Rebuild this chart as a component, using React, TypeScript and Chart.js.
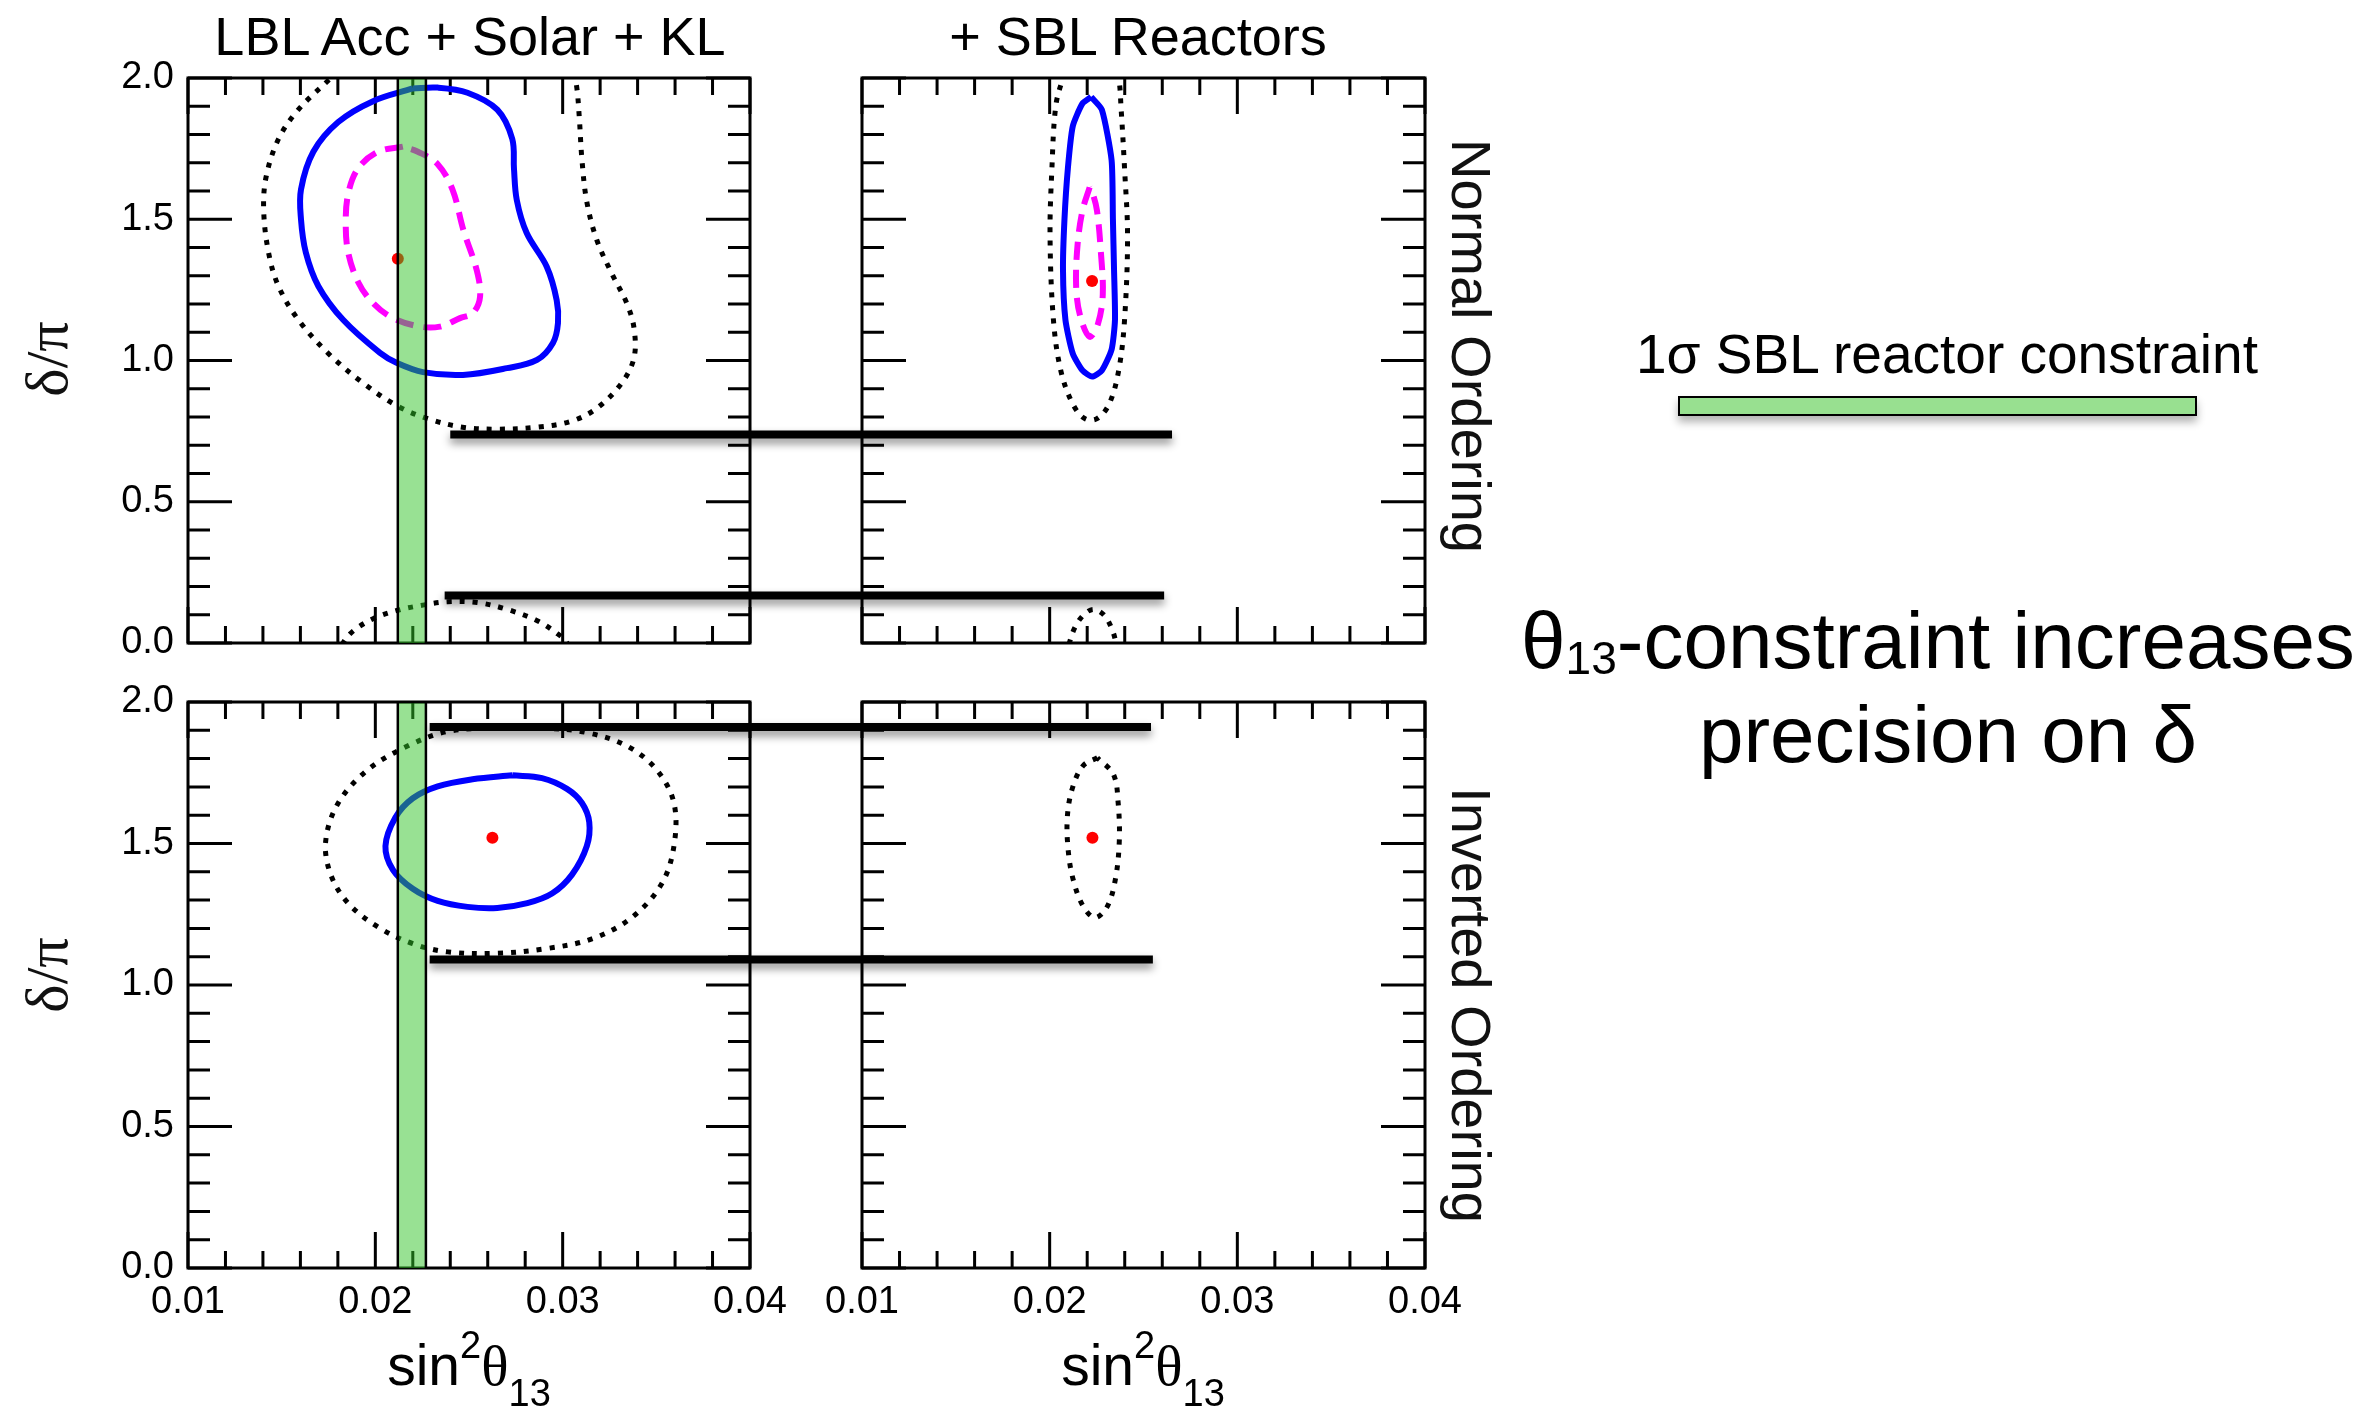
import React, { useEffect, useRef } from 'react';
import { Chart, registerables } from 'chart.js';

Chart.register(...registerables);

type Pt = [number, number];

const SANS = "'Liberation Sans', Arial, Helvetica, sans-serif";
const SERIF = "'Liberation Serif', 'Times New Roman', serif";

// ---- axes ----
const X_MIN = 0.01;
const X_MAX = 0.04;
const Y_MIN = 0;
const Y_MAX = 2;
const X_LABEL_TICKS = [0.01, 0.02, 0.03, 0.04];
const X_MINOR_TICKS = [0.012, 0.014, 0.016, 0.018, 0.022, 0.024, 0.026, 0.028, 0.032, 0.034, 0.036, 0.038];
const Y_LABEL_TICKS = [0.0, 0.5, 1.0, 1.5, 2.0];
const Y_MINOR_TICKS = [0.1, 0.2, 0.3, 0.4, 0.6, 0.7, 0.8, 0.9, 1.1, 1.2, 1.3, 1.4, 1.6, 1.7, 1.8, 1.9];

// ---- 1σ SBL reactor constraint on sin²θ13 ----
const SBL_BAND: Pt = [0.0212, 0.0227];

// ---- Normal ordering, LBL Acc + Solar + KL ----
const NO_ACC_SOLID: Pt[] = [
  [0.022, 1.963], [0.01988, 1.918], [0.01802, 1.844], [0.01669, 1.739], [0.01603, 1.605],
  [0.01603, 1.501], [0.01629, 1.382], [0.01696, 1.263], [0.01828, 1.144], [0.02025, 1.027],
  [0.02116, 0.991], [0.02254, 0.959], [0.02468, 0.949], [0.02703, 0.973], [0.02863, 1.002],
  [0.02948, 1.062], [0.02975, 1.133], [0.02968, 1.214], [0.02915, 1.332], [0.02808, 1.451],
  [0.02755, 1.568], [0.0274, 1.68], [0.02731, 1.784], [0.02651, 1.888], [0.02492, 1.948],
  [0.02333, 1.966], [0.022, 1.963],
];
const NO_ACC_DASHED: Pt[] = [
  [0.02147, 1.757], [0.02014, 1.739], [0.01908, 1.68], [0.01855, 1.59], [0.01842, 1.486],
  [0.01855, 1.382], [0.01908, 1.278], [0.01988, 1.203], [0.02094, 1.15], [0.02238, 1.12],
  [0.02345, 1.12], [0.02452, 1.15], [0.02521, 1.168], [0.02559, 1.226], [0.02541, 1.32],
  [0.0247, 1.462], [0.02412, 1.605], [0.02333, 1.695], [0.02227, 1.739], [0.02147, 1.757],
];
const NO_ACC_DOTTED: Pt[] = [
  [0.0185, 2.06], [0.01762, 2.0], [0.01589, 1.888], [0.01483, 1.784], [0.01417, 1.65],
  [0.01404, 1.531], [0.0143, 1.382], [0.01483, 1.263], [0.01589, 1.144], [0.01749, 1.025],
  [0.01935, 0.92], [0.0212, 0.838], [0.0228, 0.794], [0.02465, 0.764], [0.02651, 0.757],
  [0.02864, 0.764], [0.0305, 0.786], [0.03182, 0.831], [0.03315, 0.92], [0.03381, 1.01],
  [0.03381, 1.114], [0.03342, 1.203], [0.03262, 1.308], [0.03182, 1.427], [0.03129, 1.561],
  [0.03103, 1.71], [0.03089, 1.858], [0.03076, 1.963], [0.0305, 2.06],
];
const NO_ACC_DOTTED_LOW: Pt[] = [
  [0.018, -0.05], [0.01828, 0.0], [0.01881, 0.042], [0.01988, 0.086], [0.0212, 0.116],
  [0.02253, 0.134], [0.02386, 0.146], [0.02545, 0.143], [0.02704, 0.119], [0.02864, 0.079],
  [0.0297, 0.034], [0.03023, 0.0], [0.0304, -0.05],
];
const NO_ACC_BEST: Pt = [0.0212, 1.36];

// ---- Normal ordering, + SBL Reactors ----
const NO_SBL_SOLID: Pt[] = [
  [0.02221, 1.933], [0.02175, 1.91], [0.02123, 1.829], [0.02097, 1.68], [0.02079, 1.501],
  [0.02071, 1.322], [0.02084, 1.144], [0.02123, 1.025], [0.02175, 0.965], [0.02226, 0.943],
  [0.02278, 0.965], [0.0233, 1.039], [0.02348, 1.144], [0.02343, 1.322], [0.02337, 1.501],
  [0.0233, 1.709], [0.02278, 1.888], [0.02221, 1.933],
];
const NO_SBL_DASHED: Pt[] = [
  [0.02213, 1.613], [0.02175, 1.531], [0.02149, 1.412], [0.02141, 1.263], [0.02162, 1.159],
  [0.02213, 1.084], [0.02257, 1.129], [0.02283, 1.233], [0.02273, 1.382], [0.02252, 1.531],
  [0.02226, 1.598], [0.02213, 1.613],
];
const NO_SBL_DOTTED: Pt[] = [
  [0.0211, 2.06], [0.02072, 2.0], [0.02033, 1.903], [0.02012, 1.68], [0.02002, 1.441],
  [0.0202, 1.144], [0.02059, 0.965], [0.02123, 0.846], [0.02188, 0.794], [0.02252, 0.794],
  [0.02317, 0.846], [0.02368, 0.965], [0.02399, 1.144], [0.02415, 1.441], [0.02399, 1.68],
  [0.02381, 1.888], [0.02368, 2.0], [0.0234, 2.06],
];
const NO_SBL_DOTTED_LOW: Pt[] = [
  [0.0209, -0.05], [0.02105, 0.0], [0.02136, 0.057], [0.02183, 0.101], [0.02234, 0.119],
  [0.02291, 0.098], [0.02332, 0.049], [0.02353, 0.0], [0.0236, -0.05],
];
const NO_SBL_BEST: Pt = [0.02226, 1.281];

// ---- Inverted ordering, LBL Acc + Solar + KL ----
const IO_ACC_SOLID: Pt[] = [
  [0.02731, 1.741], [0.02519, 1.727], [0.02333, 1.702], [0.022, 1.66], [0.02107, 1.592],
  [0.02054, 1.491], [0.02094, 1.407], [0.022, 1.34], [0.02333, 1.297], [0.02492, 1.276],
  [0.02651, 1.272], [0.02811, 1.289], [0.02943, 1.323], [0.0305, 1.39], [0.03129, 1.491],
  [0.03142, 1.575], [0.03103, 1.643], [0.03023, 1.693], [0.0289, 1.731], [0.02731, 1.741],
];
const IO_ACC_DOTTED: Pt[] = [
  [0.02651, 1.909], [0.02386, 1.896], [0.02174, 1.845], [0.01961, 1.761], [0.01802, 1.643],
  [0.01735, 1.508], [0.01762, 1.39], [0.01855, 1.289], [0.02014, 1.205], [0.022, 1.146],
  [0.02386, 1.117], [0.02651, 1.112], [0.02917, 1.129], [0.03156, 1.163], [0.03368, 1.238],
  [0.03527, 1.356], [0.03594, 1.491], [0.03594, 1.643], [0.03501, 1.761], [0.03342, 1.845],
  [0.03129, 1.892], [0.02917, 1.907], [0.02651, 1.909],
];
const IO_ACC_BEST: Pt = [0.02625, 1.52];

// ---- Inverted ordering, + SBL Reactors ----
const IO_SBL_DOTTED: Pt[] = [
  [0.02254, 1.803], [0.02177, 1.774], [0.0212, 1.693], [0.02094, 1.592], [0.02099, 1.474],
  [0.02125, 1.373], [0.02177, 1.28], [0.02241, 1.238], [0.02306, 1.276], [0.0235, 1.373],
  [0.02371, 1.508], [0.02365, 1.643], [0.0234, 1.744], [0.02254, 1.803],
];
const IO_SBL_BEST: Pt = [0.02228, 1.52];

// ---- guide bars: [δ/π, start x in left panel, end x in right panel] ----
const NO_GUIDES: [number, number, number][] = [
  [0.738, 0.024, 0.02652],
  [0.168, 0.0237, 0.0261],
];
const IO_GUIDES: [number, number, number][] = [
  [1.912, 0.0229, 0.0254],
  [1.09, 0.0229, 0.0255],
];

// ---- dataset builders ----
const toXY = (pts: Pt[]) => pts.map(([x, y]) => ({ x, y }));

const solid = (pts: Pt[], tension = 0.35) => ({
  data: toXY(pts), showLine: true, pointRadius: 0, fill: false,
  borderColor: '#0000ff', borderWidth: 6, tension,
});
const dashed = (pts: Pt[]) => ({
  data: toXY(pts), showLine: true, pointRadius: 0, fill: false,
  borderColor: '#ff00ff', borderWidth: 6, borderDash: [18, 10], tension: 0.35,
});
const dotted = (pts: Pt[]) => ({
  data: toXY(pts), showLine: true, pointRadius: 0, fill: false,
  borderColor: '#000000', borderWidth: 5, borderDash: [5, 8], tension: 0.35,
});
const best = (p: Pt) => ({
  data: toXY([p]), showLine: false, pointRadius: 6,
  backgroundColor: '#ff0000', borderColor: '#ff0000', borderWidth: 0,
});
const band = () => ({
  data: toXY([
    [SBL_BAND[0], -0.005], [SBL_BAND[0], 2.0], [SBL_BAND[1], 2.0],
    [SBL_BAND[1], -0.005], [SBL_BAND[0], -0.005],
  ]),
  showLine: true, pointRadius: 0, tension: 0, fill: 'shape',
  backgroundColor: 'rgba(50,195,40,0.5)', borderColor: '#000000', borderWidth: 2.5,
});
// left half of a guide bar runs off the right of its panel, right half enters from the left
const guideLeft = ([y, x0]: [number, number, number]) => ({
  data: toXY([[x0, y], [0.06, y]]), showLine: true, pointRadius: 0, tension: 0,
  borderColor: '#000000', borderWidth: 8, clip: false, shadow: true,
});
const guideRight = ([y, , x1]: [number, number, number]) => ({
  data: toXY([[0.0, y], [x1, y]]), showLine: true, pointRadius: 0, tension: 0,
  borderColor: '#000000', borderWidth: 8, clip: false, shadow: true,
});

// ---- plugins ----
const frameTicks = {
  id: 'frameTicks',
  beforeDatasetsDraw(chart: any) {
    const { ctx, chartArea: a, scales } = chart;
    const xs = scales.x;
    const ys = scales.y;
    ctx.save();
    ctx.strokeStyle = '#000';
    ctx.lineWidth = 3;
    ctx.lineCap = 'butt';
    ctx.beginPath();
    const seg = (x1: number, y1: number, x2: number, y2: number) => {
      ctx.moveTo(x1, y1);
      ctx.lineTo(x2, y2);
    };
    const xTick = (v: number, len: number) => {
      const px = xs.getPixelForValue(v);
      seg(px, a.bottom, px, a.bottom - len);
      seg(px, a.top, px, a.top + len);
    };
    const yTick = (v: number, len: number) => {
      const py = ys.getPixelForValue(v);
      seg(a.left, py, a.left + len, py);
      seg(a.right, py, a.right - len, py);
    };
    X_MINOR_TICKS.forEach((v) => xTick(v, 17));
    X_LABEL_TICKS.forEach((v) => xTick(v, 36));
    Y_MINOR_TICKS.forEach((v) => yTick(v, 22));
    Y_LABEL_TICKS.forEach((v) => yTick(v, 44));
    ctx.stroke();
    ctx.strokeRect(a.left, a.top, a.right - a.left, a.bottom - a.top);
    ctx.restore();
  },
};

const guideShadow = {
  id: 'guideShadow',
  beforeDatasetDraw(chart: any, args: any) {
    const ds: any = chart.data.datasets[args.index];
    if (!ds.shadow) return;
    const ctx = chart.ctx;
    ctx.save();
    ctx.shadowColor = 'rgba(0,0,0,0.45)';
    ctx.shadowBlur = 8;
    ctx.shadowOffsetY = 5;
  },
  afterDatasetDraw(chart: any, args: any) {
    const ds: any = chart.data.datasets[args.index];
    if (!ds.shadow) return;
    chart.ctx.restore();
  },
};

type PanelSpec = {
  id: string;
  left: number; top: number; w: number; h: number;
  yWidth: number; xHeight: number; padTop: number; padRight: number;
  showX: boolean; showY: boolean;
  datasets: any[];
};

const PANELS: PanelSpec[] = [
  {
    id: 'no-acc', left: 0, top: 0, w: 806, h: 672,
    yWidth: 188, xHeight: 29, padTop: 78, padRight: 56, showX: false, showY: true,
    datasets: [
      band(), best(NO_ACC_BEST), ...NO_GUIDES.map(guideLeft),
      dashed(NO_ACC_DASHED), solid(NO_ACC_SOLID), dotted(NO_ACC_DOTTED), dotted(NO_ACC_DOTTED_LOW),
    ],
  },
  {
    id: 'no-sbl', left: 806, top: 0, w: 694, h: 672,
    yWidth: 56, xHeight: 29, padTop: 78, padRight: 75, showX: false, showY: false,
    datasets: [
      best(NO_SBL_BEST), ...NO_GUIDES.map(guideRight),
      dashed(NO_SBL_DASHED), solid(NO_SBL_SOLID, 0.2), dotted(NO_SBL_DOTTED), dotted(NO_SBL_DOTTED_LOW),
    ],
  },
  {
    id: 'io-acc', left: 0, top: 672, w: 806, h: 736,
    yWidth: 188, xHeight: 140, padTop: 30, padRight: 56, showX: true, showY: true,
    datasets: [
      band(), best(IO_ACC_BEST), ...IO_GUIDES.map(guideLeft),
      solid(IO_ACC_SOLID), dotted(IO_ACC_DOTTED),
    ],
  },
  {
    id: 'io-sbl', left: 806, top: 672, w: 694, h: 736,
    yWidth: 56, xHeight: 140, padTop: 30, padRight: 75, showX: true, showY: false,
    datasets: [
      best(IO_SBL_BEST), ...IO_GUIDES.map(guideRight), dotted(IO_SBL_DOTTED),
    ],
  },
];

// keep every panel's plot area at exactly the same place, whatever its labels
const pinPadding = (s: any) => {
  s.paddingTop = 0;
  s.paddingBottom = 0;
  s.paddingLeft = 0;
  s.paddingRight = 0;
};

function buildConfig(p: PanelSpec): any {
  const tickFont = { family: SANS, size: 38 };
  return {
    type: 'scatter',
    data: { datasets: p.datasets },
    options: {
      animation: false,
      responsive: false,
      devicePixelRatio: 1,
      events: [],
      layout: { padding: { top: p.padTop, right: p.padRight, left: 0, bottom: 0 } },
      elements: { line: { capBezierPoints: false, borderCapStyle: 'butt' } },
      plugins: { legend: { display: false }, tooltip: { enabled: false }, title: { display: false } },
      scales: {
        x: {
          type: 'linear', position: 'bottom', min: X_MIN, max: X_MAX,
          grid: { display: false, drawTicks: false },
          border: { display: false },
          afterBuildTicks: (s: any) => { s.ticks = X_LABEL_TICKS.map((value) => ({ value })); },
          afterFit: (s: any) => { s.height = p.xHeight; pinPadding(s); },
          ticks: {
            display: p.showX, autoSkip: false, maxRotation: 0, minRotation: 0,
            padding: 12, color: '#000', font: tickFont,
            callback: (v: any) => Number(v).toFixed(2),
          },
        },
        y: {
          type: 'linear', position: 'left', min: Y_MIN, max: Y_MAX,
          grid: { display: false, drawTicks: false },
          border: { display: false },
          afterBuildTicks: (s: any) => { s.ticks = Y_LABEL_TICKS.map((value) => ({ value })); },
          afterFit: (s: any) => { s.width = p.yWidth; pinPadding(s); },
          ticks: {
            display: p.showY, autoSkip: false, padding: 14, color: '#000', font: tickFont,
            callback: (v: any) => Number(v).toFixed(1),
          },
        },
      },
    },
    plugins: [frameTicks, guideShadow],
  };
}

function Panel({ spec }: { spec: PanelSpec }) {
  const ref = useRef<HTMLCanvasElement>(null);
  useEffect(() => {
    if (!ref.current) return;
    const chart = new Chart(ref.current, buildConfig(spec));
    return () => chart.destroy();
  }, [spec]);
  return (
    <canvas
      ref={ref}
      width={spec.w}
      height={spec.h}
      style={{ position: 'absolute', left: spec.left, top: spec.top, width: spec.w, height: spec.h }}
    />
  );
}

// horizontal text placed by its centre x and baseline y (Liberation Sans metrics)
function HText({ cx, baseline, size, children, family = SANS, width = 1200 }: any) {
  return (
    <div
      style={{
        position: 'absolute', left: cx - width / 2, width, top: baseline - 0.8465 * size,
        fontSize: size, lineHeight: `${size}px`, fontFamily: family, textAlign: 'center',
        whiteSpace: 'nowrap', color: '#000',
      }}
    >
      {children}
    </div>
  );
}

// rotated text placed by the centre of its line box
function RText({ cx, cy, size, angle, children, family = SANS, width = 700 }: any) {
  return (
    <div
      style={{
        position: 'absolute', left: cx - width / 2, top: cy - size / 2, width, height: size,
        fontSize: size, lineHeight: `${size}px`, fontFamily: family, textAlign: 'center',
        whiteSpace: 'nowrap', color: '#111', transform: `rotate(${angle}deg)`,
      }}
    >
      {children}
    </div>
  );
}

function AxisTitleX({ cx }: { cx: number }) {
  return (
    <HText cx={cx} baseline={1385} size={57} width={600}>
      sin
      <span style={{ fontSize: 38, position: 'relative', top: -27, lineHeight: 0 }}>2</span>
      <span style={{ fontFamily: SERIF, lineHeight: 0 }}>θ</span>
      <span style={{ fontSize: 38, position: 'relative', top: 21, lineHeight: 0 }}>13</span>
    </HText>
  );
}

export default function App() {
  return (
    <div
      style={{
        position: 'absolute', left: 0, top: 0, width: 2373, height: 1408,
        background: '#ffffff', overflow: 'hidden', fontFamily: SANS,
      }}
    >
      {PANELS.map((p) => (
        <Panel key={p.id} spec={p} />
      ))}

      <HText cx={470} baseline={55} size={54}>LBL Acc + Solar + KL</HText>
      <HText cx={1138} baseline={55} size={54}>+ SBL Reactors</HText>

      <RText cx={46.7} cy={359} size={60} angle={-90} family={SERIF}>δ/π</RText>
      <RText cx={46.7} cy={975} size={60} angle={-90} family={SERIF}>δ/π</RText>

      <RText cx={1471} cy={346} size={56} angle={90}>Normal Ordering</RText>
      <RText cx={1471} cy={1005} size={56} angle={90}>Inverted Ordering</RText>

      <AxisTitleX cx={469} />
      <AxisTitleX cx={1143} />

      <HText cx={1947} baseline={374} size={55}>1σ SBL reactor constraint</HText>
      <div
        style={{
          position: 'absolute', left: 1678, top: 396, width: 519, height: 20, boxSizing: 'border-box',
          background: 'rgb(152,224,144)', border: '2px solid #000', boxShadow: '0 6px 8px rgba(0,0,0,0.3)',
        }}
      />

      <HText cx={1938} baseline={669} size={80}>
        θ<span style={{ fontSize: 46, position: 'relative', top: 6, lineHeight: 0 }}>13</span>-constraint increases
      </HText>
      <HText cx={1948} baseline={763} size={80}>precision on δ</HText>
    </div>
  );
}
